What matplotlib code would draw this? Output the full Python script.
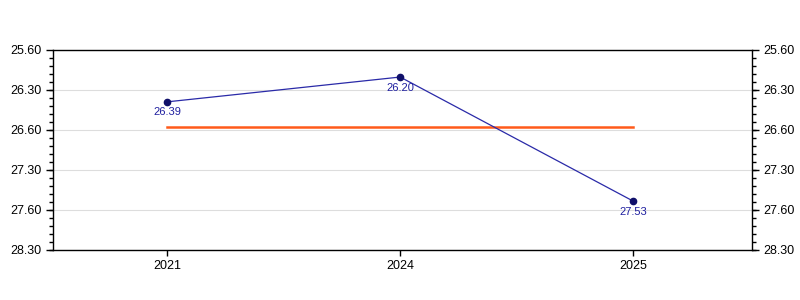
import matplotlib.pyplot as plt
from matplotlib.ticker import MultipleLocator

years = ['2021', '2024', '2025']
# positions on the drawn axis scale, and the labels printed beside each point
values = [26.30, 25.965, 27.64]
value_labels = ['26.39', '26.20', '27.53']
ref_level = 26.64

tick_pos = [25.60, 26.14, 26.68, 27.22, 27.76, 28.30]
tick_labels = ['25.60', '26.30', '26.60', '27.30', '27.60', '28.30']

plt.rcParams['font.family'] = ['Liberation Sans', 'DejaVu Sans']

fig = plt.figure(figsize=(8, 3), dpi=100)
ax = fig.add_axes([53 / 800, 50 / 300, 699 / 800, 200 / 300])

x = list(range(len(years)))
ax.plot([x[0], x[-1]], [ref_level, ref_level], color='#ff5a1a', lw=1.8, zorder=2)
ax.plot(x, values, color='#2a2aa8', lw=0.9, marker='o', ms=4.5,
        mfc='#10106a', mec='#10106a', zorder=3)
for xi, v, lab in zip(x, values, value_labels):
    ax.annotate(lab, (xi, v), xytext=(0, -4), textcoords='offset points',
                ha='center', va='top', fontsize=8, color='#2020a0')

ax.set_xlim(-0.49, 2.51)
ax.set_ylim(28.30, 25.60)
ax.set_xticks(x)
ax.set_xticklabels(years)
ax.set_yticks(tick_pos)
ax.set_yticklabels(tick_labels)
ax.yaxis.set_minor_locator(MultipleLocator(0.108))
ax.tick_params(axis='y', which='major', length=5, width=1, labelsize=9,
               left=True, right=True, labelleft=True, labelright=True)
ax.tick_params(axis='y', which='minor', length=3, width=1, left=True, right=True)
ax.tick_params(axis='x', length=4, width=1, labelsize=9, pad=3)
ax.grid(axis='y', color='#dddddd', lw=0.8)
ax.set_axisbelow(True)
for s in ax.spines.values():
    s.set_linewidth(1)

fig.savefig('out.png', dpi=100)
